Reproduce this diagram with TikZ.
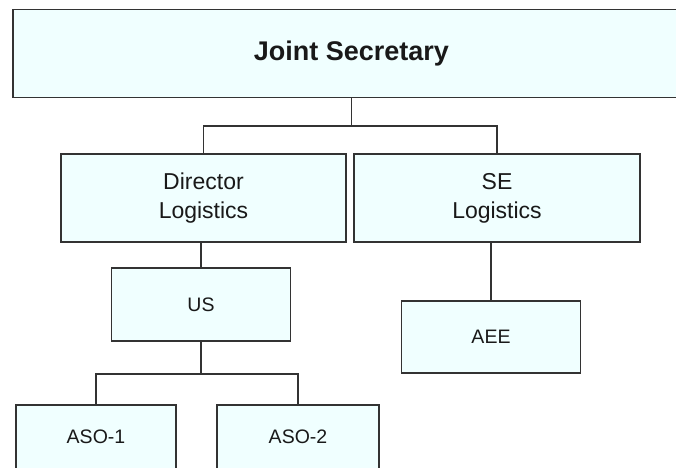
\documentclass[tikz,border=0pt]{standalone}
\usepackage{fontspec}
\setmainfont{Liberation Sans}
\definecolor{boxfill}{HTML}{F0FFFF}
\definecolor{linecol}{HTML}{333333}
\tikzset{
  post/.style={draw=linecol,line width=1.3pt,fill=boxfill,inner sep=0,align=center,text=black!90},
  link/.style={draw=linecol,line width=1.1pt}
}
\begin{document}
\begin{tikzpicture}[x=1pt,y=-1pt]
\useasboundingbox (0,0) rectangle (676,467);
\clip (0,0) rectangle (676,467);
\node[post,minimum width=677pt,minimum height=88pt,font=\fontsize{27}{32}\selectfont\bfseries] (js) at (351.5,53.5) {Joint Secretary};
\node[post,minimum width=285pt,minimum height=88pt,font=\fontsize{23}{29}\selectfont] (dir) at (203.5,198) {Director\\Logistics};
\node[post,minimum width=286pt,minimum height=88pt,font=\fontsize{23}{29}\selectfont] (se) at (497,198) {SE\\Logistics};
\node[post,minimum width=179pt,minimum height=73pt,font=\fontsize{19.5}{24}\selectfont] (us) at (201,304.5) {US};
\node[post,minimum width=179pt,minimum height=72pt,font=\fontsize{19.5}{24}\selectfont] (aee) at (491,337) {AEE};
\node[post,minimum width=160pt,minimum height=64pt,font=\fontsize{19.5}{24}\selectfont] (aso1) at (96,437) {ASO-1};
\node[post,minimum width=162pt,minimum height=64pt,font=\fontsize{19.5}{24}\selectfont] (aso2) at (298,437) {ASO-2};
% connectors
\coordinate (jsbar) at (351.5,126);
\coordinate (usbar) at (201,374);
\draw[link] (js.south) -- (jsbar);
\draw[link] (dir.north) |- (jsbar) -| (se.north);
\draw[link] (us.north) -- (us.north |- dir.south);
\draw[link] (aee.north) -- (aee.north |- se.south);
\draw[link] (us.south) -- (usbar);
\draw[link] (aso1.north) |- (usbar) -| (aso2.north);
\end{tikzpicture}
\end{document}
